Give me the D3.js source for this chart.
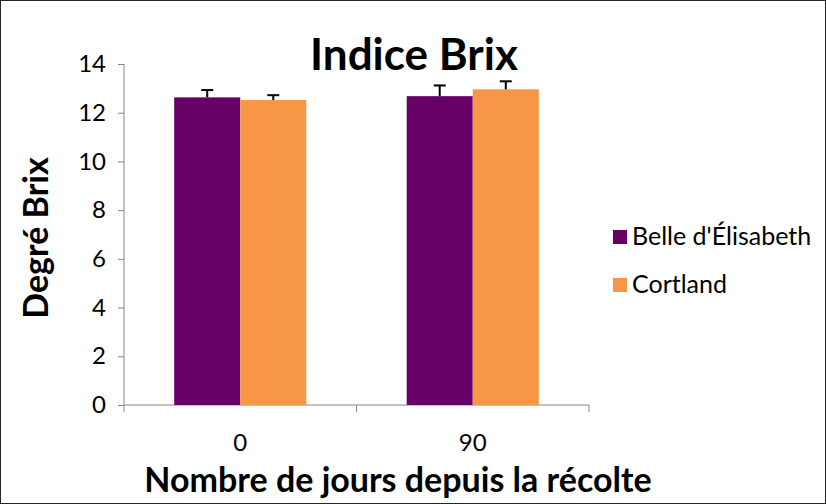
<!DOCTYPE html>
<html>
<head>
<meta charset="UTF-8">
<title>Indice Brix</title>
<script src="https://d3js.org/d3.v7.min.js"></script>
<style>
 body { margin: 0; background: #fff; }
 text { font-family: Lato, "Open Sans", sans-serif; fill: #000; }
</style>
</head>
<body>
<script>
var categories = ["0", "90"];
var seriesNames = ["Belle d'Élisabeth", "Cortland"];
var seriesColors = ["#660066", "#f79646"];
var values = [[12.63, 12.52], [12.68, 12.96]];
var errors = [[0.3, 0.2], [0.44, 0.33]];
var yTicks = [0, 2, 4, 6, 8, 10, 12, 14];

var width = 826, height = 504;
var mLeft = 124, mRight = 589, mTop = 64, mBottom = 405;

var svg = d3.select("body").append("svg")
  .attr("width", width)
  .attr("height", height);

svg.append("rect")
  .attr("x", 0.5).attr("y", 0.5)
  .attr("width", width - 1).attr("height", height - 1)
  .attr("fill", "#fff").attr("stroke", "#262626");

var x = d3.scaleBand().domain(categories).range([mLeft, mRight]).paddingInner(0).paddingOuter(0);
var xs = d3.scaleBand().domain(d3.range(seriesNames.length)).range([0, x.bandwidth()]).paddingInner(0).paddingOuter(0.76);
var y = d3.scaleLinear().domain([0, 14]).range([mBottom, mTop]);

// y axis
var yAxis = svg.append("g").attr("transform", "translate(" + mLeft + ",0)")
  .call(d3.axisLeft(y).tickValues(yTicks).tickSize(6).tickPadding(12).tickFormat(d3.format("d")));
yAxis.selectAll("line, path").attr("stroke", "#868686");
yAxis.select("path").attr("d", "M0," + mTop + "V" + mBottom);
yAxis.selectAll("text").attr("font-size", 24).attr("font-family", "Lato, sans-serif").attr("fill", "#000");

// x axis
var xAxis = svg.append("g").attr("transform", "translate(0," + mBottom + ")");
xAxis.append("line").attr("x1", mLeft).attr("x2", mRight).attr("stroke", "#868686");
xAxis.selectAll(".tk").data([mLeft].concat(categories.map(function (c) { return x(c) + x.bandwidth(); })))
  .enter().append("line").attr("class", "tk")
  .attr("x1", function (d) { return d; }).attr("x2", function (d) { return d; })
  .attr("y1", 0).attr("y2", 7).attr("stroke", "#868686");
xAxis.selectAll(".lbl").data(categories).enter().append("text")
  .attr("x", function (d) { return x(d) + x.bandwidth() / 2; })
  .attr("y", 46).attr("text-anchor", "middle").attr("font-size", 24)
  .text(function (d) { return d; });

// bars
var groups = svg.selectAll(".grp").data(categories).enter().append("g")
  .attr("transform", function (d) { return "translate(" + x(d) + ",0)"; });

groups.each(function (c, ci) {
  var g = d3.select(this);
  seriesNames.forEach(function (s, si) {
    var v = values[ci][si], e = errors[ci][si];
    var bx = xs(si), bw = xs.bandwidth();
    g.append("rect").attr("x", bx).attr("y", y(v))
      .attr("width", bw).attr("height", y(0) - y(v))
      .attr("fill", seriesColors[si]);
    var cx = bx + bw / 2;
    g.append("line").attr("x1", cx).attr("x2", cx).attr("y1", y(v)).attr("y2", y(v + e))
      .attr("stroke", "#000").attr("stroke-width", 2);
    g.append("line").attr("x1", cx - 6).attr("x2", cx + 6).attr("y1", y(v + e)).attr("y2", y(v + e))
      .attr("stroke", "#000").attr("stroke-width", 2);
  });
});

// titles
svg.append("text").attr("x", 414).attr("y", 70).attr("text-anchor", "middle")
  .attr("font-size", 44).attr("font-weight", "bold").text("Indice Brix");
svg.append("text").attr("transform", "translate(48,238) rotate(-90)").attr("text-anchor", "middle")
  .attr("font-size", 34).attr("font-weight", "bold").text("Degré Brix");
svg.append("text").attr("x", 398).attr("y", 492).attr("text-anchor", "middle")
  .attr("font-size", 34).attr("font-weight", "bold").text("Nombre de jours depuis la récolte");

// legend
var legend = svg.selectAll(".leg").data(seriesNames).enter().append("g")
  .attr("transform", function (d, i) { return "translate(613," + (230 + i * 48) + ")"; });
legend.append("rect").attr("width", 14).attr("height", 14)
  .attr("fill", function (d, i) { return seriesColors[i]; });
legend.append("text").attr("x", 19).attr("y", 15).attr("font-size", 25)
  .text(function (d) { return d; });
</script>
</body>
</html>
